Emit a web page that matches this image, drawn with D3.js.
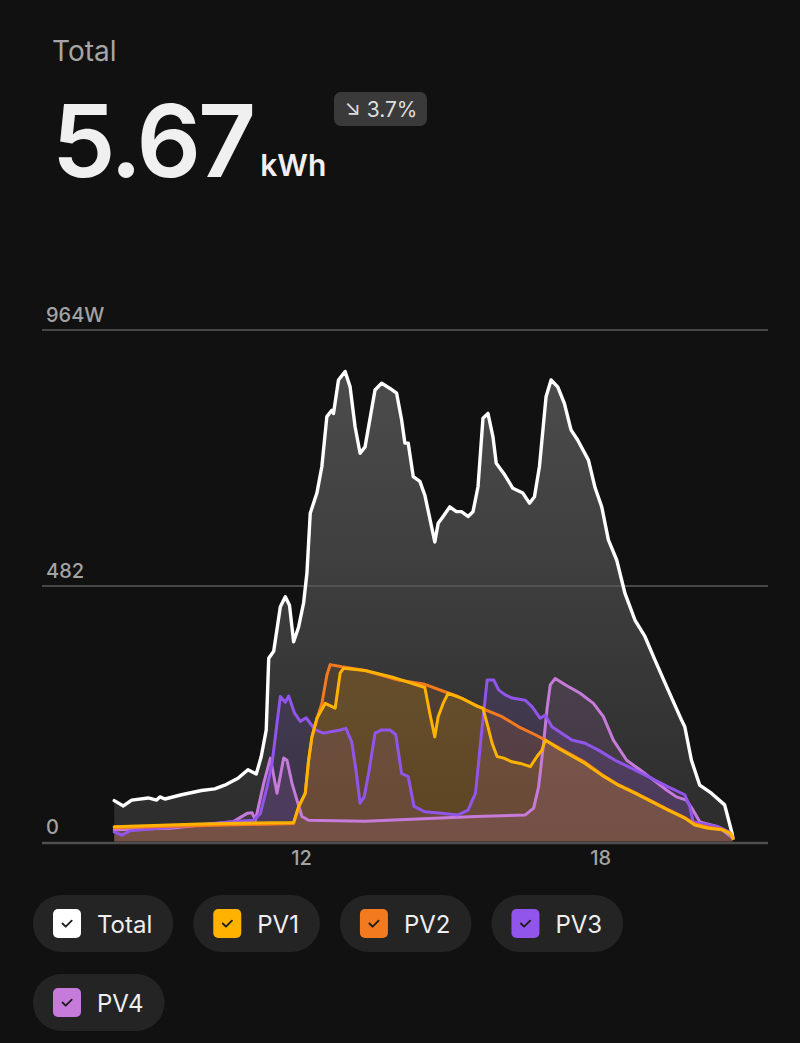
<!DOCTYPE html>
<html>
<head>
<meta charset="utf-8">
<script src="https://cdn.jsdelivr.net/npm/d3@7"></script>
<style>
html, body { margin: 0; padding: 0; background: #111111; }
svg { display: block; font-family: Inter, "Noto Sans", sans-serif; }
</style>
</head>
<body>
<div id="chart"></div>
<script>
// Solar production, one day: Total + 4 strings (W), times as HH:MM

const totalValues = [
  ["08:15",77],["08:26",67],["08:36",78],["08:56",82],["09:06",78],["09:10",84],["09:16",80],["09:36",88],
  ["10:00",96],["10:16",99],["10:28",106],["10:44",119],["10:56",135],["11:06",127],["11:12",160],["11:18",210],
  ["11:21",345],["11:27",358],["11:35",442],["11:41",461],["11:46",445],["11:51",376],["11:57",404],["12:03",449],
  ["12:07",505],["12:11",618],["12:19",656],["12:25",706],["12:31",800],["12:37",812],["12:39",806],["12:45",869],
  ["12:53",885],["12:59",856],["13:05",781],["13:11",731],["13:17",743],["13:29",850],["13:37",863],["13:47",853],
  ["13:55",844],["14:01",794],["14:05",750],["14:09",750],["14:15",687],["14:23",678],["14:29",652],["14:41",564],
  ["14:45",599],["14:51",612],["14:59",630],["15:07",621],["15:13",621],["15:21",612],["15:27",621],["15:33",668],
  ["15:39",797],["15:45",806],["15:51",762],["15:55",712],["16:04",693],["16:15",665],["16:27",656],["16:35",637],
  ["16:41",649],["16:47",706],["16:55",838],["17:01",869],["17:09",856],["17:17",825],["17:25",775],["17:33",756],
  ["17:46",718],["17:54",666],["18:02",630],["18:10",568],["18:20",530],["18:30",467],["18:42",417],["18:54",386],
  ["19:06",342],["19:22",285],["19:38",229],["19:42",216],["19:50",153],["20:00",106],["20:14",91],["20:30",69],
  ["20:39",15],["20:40",6]
];

const pv1Values = [
  ["08:15",28],["09:58",33],["11:51",36],["11:57",66],["12:05",91],["12:09",153],["12:13",197],["12:19",232],
  ["12:29",260],["12:41",251],["12:47",317],["12:51",326],["13:17",322],["13:49",310],["14:29",290],["14:35",241],
  ["14:41",197],["14:45",235],["14:51",260],["14:57",279],["15:13",270],["15:33",254],["15:39",251],["15:45",216],
  ["15:50",185],["15:56",160],["16:04",157],["16:14",150],["16:24",147],["16:36",141],["16:44",160],["16:50",172],
  ["16:54",191],["17:10",175],["17:42",147],["18:02",125],["18:22",106],["18:42",91],["19:02",75],["19:22",59],
  ["19:42",44],["19:54",31],["20:10",25],["20:27",22],["20:37",15],["20:40",6]
];

const pv2Values = [
  ["08:15",26],["11:51",34],["11:57",64],["12:05",90],["12:09",152],["12:13",196],["12:19",231],["12:25",260],
  ["12:31",313],["12:35",333],["12:49",329],["13:17",322],["13:57",304],["14:29",296],["14:53",282],["15:09",273],
  ["15:30",257],["15:42",248],["16:02",235],["16:22",216],["16:42",201],["16:54",191],["17:10",177],["17:42",149],
  ["18:02",126],["18:22",107],["18:42",92],["19:02",76],["19:22",60],["19:42",45],["19:54",33],["20:10",27],
  ["20:27",23],["20:37",16],["20:40",6]
];

const pv3Values = [
  ["08:15",18],["08:24",12],["08:34",20],["10:37",37],["11:03",40],["11:11",53],["11:19",103],["11:25",147],
  ["11:31",223],["11:35",273],["11:41",262],["11:45",274],["11:52",242],["11:59",226],["12:06",233],["12:17",210],
  ["12:27",204],["12:47",210],["12:54",213],["13:01",187],["13:06",135],["13:11",72],["13:16",84],["13:22",135],
  ["13:29",204],["13:37",210],["13:47",210],["13:54",201],["14:01",128],["14:09",122],["14:16",66],["14:29",56],
  ["14:49",53],["15:09",50],["15:21",59],["15:30",91],["15:34",153],["15:38",216],["15:44",304],["15:52",304],
  ["15:58",285],["16:06",276],["16:14",270],["16:30",266],["16:38",254],["16:48",232],["16:54",238],["17:02",216],
  ["17:26",191],["17:42",185],["17:58",172],["18:18",153],["18:42",135],["19:02",119],["19:22",103],["19:42",88],
  ["19:48",66],["19:52",37],["20:02",34],["20:22",28],["20:35",18],["20:40",6]
];

const pv4Values = [
  ["08:15",22],["09:22",25],["10:38",37],["10:55",53],["11:01",54],["11:05",40],["11:15",110],["11:23",157],
  ["11:31",91],["11:39",157],["11:43",153],["11:49",110],["11:55",78],["12:01",47],["12:09",40],["13:17",38],
  ["14:41",44],["15:30",47],["16:30",50],["16:40",63],["16:46",103],["16:52",185],["16:56",248],["17:00",295],
  ["17:06",307],["17:18",295],["17:36",279],["17:52",260],["18:04",235],["18:16",191],["18:32",153],["18:48",135],
  ["19:04",116],["19:20",97],["19:32",84],["19:44",78],["19:52",59],["20:00",37],["20:22",28],["20:40",6]
];

const seriesNames = ["Total", "PV1", "PV2", "PV3", "PV4"];
const seriesColors = ["#ffffff", "#ffb300", "#f47a1f", "#9155ec", "#c67bdb"];
const yTicks = [0, 482, 964];
const yTickLabels = ["0", "482", "964W"];
const xTicks = [12, 18];

const headerLabel = "Total";
const headerValue = "5.67";
const headerUnit = "kWh";
const changeLabel = "↘ 3.7%";

const width = 800, height = 1043;

const svg = d3.select("#chart").append("svg")
    .attr("width", width)
    .attr("height", height)
    .style("background-color", "#111111");

//turn "HH:MM" into decimal hours
function toHours(s){
    let parts = s.split(":");
    return +parts[0] + (+parts[1]) / 60;
}

const series = [totalValues, pv1Values, pv2Values, pv3Values, pv4Values].map((vals, i) => ({
    name: seriesNames[i],
    color: seriesColors[i],
    values: vals.map(d => ({t: toHours(d[0]), v: d[1]}))
}));

// scales
const x = d3.scaleLinear().domain([6.8, 21.37]).range([42, 768]);
const y = d3.scaleLinear().domain([0, 964]).range([841.5, 329.5]);

// header
svg.append("text")
    .attr("x", 52).attr("y", 61)
    .attr("font-size", 28)
    .attr("fill", "#a6a6a6")
    .text(headerLabel);

let big = svg.append("text")
    .attr("x", 52).attr("y", 177)
    .attr("font-size", 101)
    .attr("font-weight", 600)
    .attr("letter-spacing", -3)
    .attr("fill", "#f0f0f0")
    .text(headerValue);
let bigW = big.node().getComputedTextLength();

svg.append("text")
    .attr("x", 52 + bigW + 7).attr("y", 176)
    .attr("font-size", 30)
    .attr("font-weight", 600)
    .attr("fill", "#f0f0f0")
    .text(headerUnit);

svg.append("rect")
    .attr("x", 334).attr("y", 92)
    .attr("width", 93).attr("height", 34)
    .attr("rx", 7)
    .attr("fill", "#3a3a3a");
svg.append("text")
    .attr("x", 381).attr("y", 117)
    .attr("text-anchor", "middle")
    .attr("font-size", 21)
    .attr("fill", "#dedede")
    .text(changeLabel);

// gradients
const defs = svg.append("defs");
const g0 = defs.append("linearGradient")
    .attr("id", "totalFill")
    .attr("gradientUnits", "userSpaceOnUse")
    .attr("x1", 0).attr("y1", y(900))
    .attr("x2", 0).attr("y2", y(0));
g0.append("stop").attr("offset", 0).attr("stop-color", "#4c4c4c");
g0.append("stop").attr("offset", 1).attr("stop-color", "#2c2c2c");

const area = d3.area()
    .x(d => x(d.t))
    .y0(y(0))
    .y1(d => y(d.v));

const line = d3.line()
    .x(d => x(d.t))
    .y(d => y(d.v));

// draw order: Total, then PV4 .. PV1 so PV1 ends on top
const drawOrder = [series[0], series[4], series[3], series[2], series[1]];

svg.append("g").selectAll("path")
    .data(drawOrder)
    .enter().append("path")
    .attr("d", d => area(d.values))
    .attr("fill", d => d.name === "Total" ? "url(#totalFill)" : d.color)
    .attr("fill-opacity", d => d.name === "Total" ? 1 : 0.13);

// y gridlines + labels
const gy = svg.append("g")
    .attr("transform", "translate(42,0)")
    .call(d3.axisRight(y).tickValues(yTicks).tickSize(726).tickFormat((d, i) => yTickLabels[i]));
gy.select(".domain").remove();
gy.selectAll(".tick line")
    .attr("stroke", d => d === 0 ? "#4e4e4e" : "#5a5a5a")
    .attr("stroke-width", d => d === 0 ? 2.5 : 1.5)
    .attr("transform", d => d === 0 ? "translate(0,1)" : null);
gy.selectAll(".tick text")
    .attr("x", 4)
    .attr("dy", "-0.42em")
    .attr("text-anchor", "start")
    .attr("font-family", "Inter, sans-serif")
    .attr("font-size", 20)
    .attr("font-weight", 500)
    .attr("fill", "#a3a3a3");

// x axis labels
const gx = svg.append("g")
    .attr("transform", "translate(0,842)")
    .call(d3.axisBottom(x).tickValues(xTicks).tickSize(0).tickPadding(9));
gx.select(".domain").remove();
gx.selectAll(".tick text")
    .attr("font-family", "Inter, sans-serif")
    .attr("font-size", 20)
    .attr("font-weight", 500)
    .attr("fill", "#a3a3a3");

// lines
svg.append("g").selectAll("path")
    .data(drawOrder)
    .enter().append("path")
    .attr("d", d => line(d.values))
    .attr("fill", "none")
    .attr("stroke", d => d.color)
    .attr("stroke-width", d => d.name === "Total" ? 3.4 : 3)
    .attr("stroke-linejoin", "round")
    .attr("stroke-linecap", "round");

// legend pills
const legend = svg.append("g");
let lx = 33, ly = 895;
const pillH = 57, maxRight = 760;
series.forEach(s => {
    let item = legend.append("g");
    let label = item.append("text")
        .attr("font-size", 24)
        .attr("fill", "#efefef")
        .text(s.name);
    let tw = label.node().getComputedTextLength();
    let w = 20 + 28 + 16 + tw + 21;
    if (lx + w > maxRight) { lx = 33; ly += pillH + 22; }
    item.attr("transform", "translate(" + lx + "," + ly + ")");
    item.insert("rect", "text")
        .attr("width", w).attr("height", pillH)
        .attr("rx", pillH / 2)
        .attr("fill", "#242424");
    item.insert("rect", "text")
        .attr("x", 20).attr("y", 14)
        .attr("width", 28).attr("height", 29)
        .attr("rx", 5)
        .attr("fill", s.color);
    item.append("path")
        .attr("d", "M29.5,28.5 l3.2,3.2 l6,-6")
        .attr("fill", "none")
        .attr("stroke", "#1c1c1c")
        .attr("stroke-width", 1.8)
        .attr("stroke-linecap", "round")
        .attr("stroke-linejoin", "round");
    label.attr("x", 64).attr("y", 38);
    lx += w + 20;
});
</script>
</body>
</html>
